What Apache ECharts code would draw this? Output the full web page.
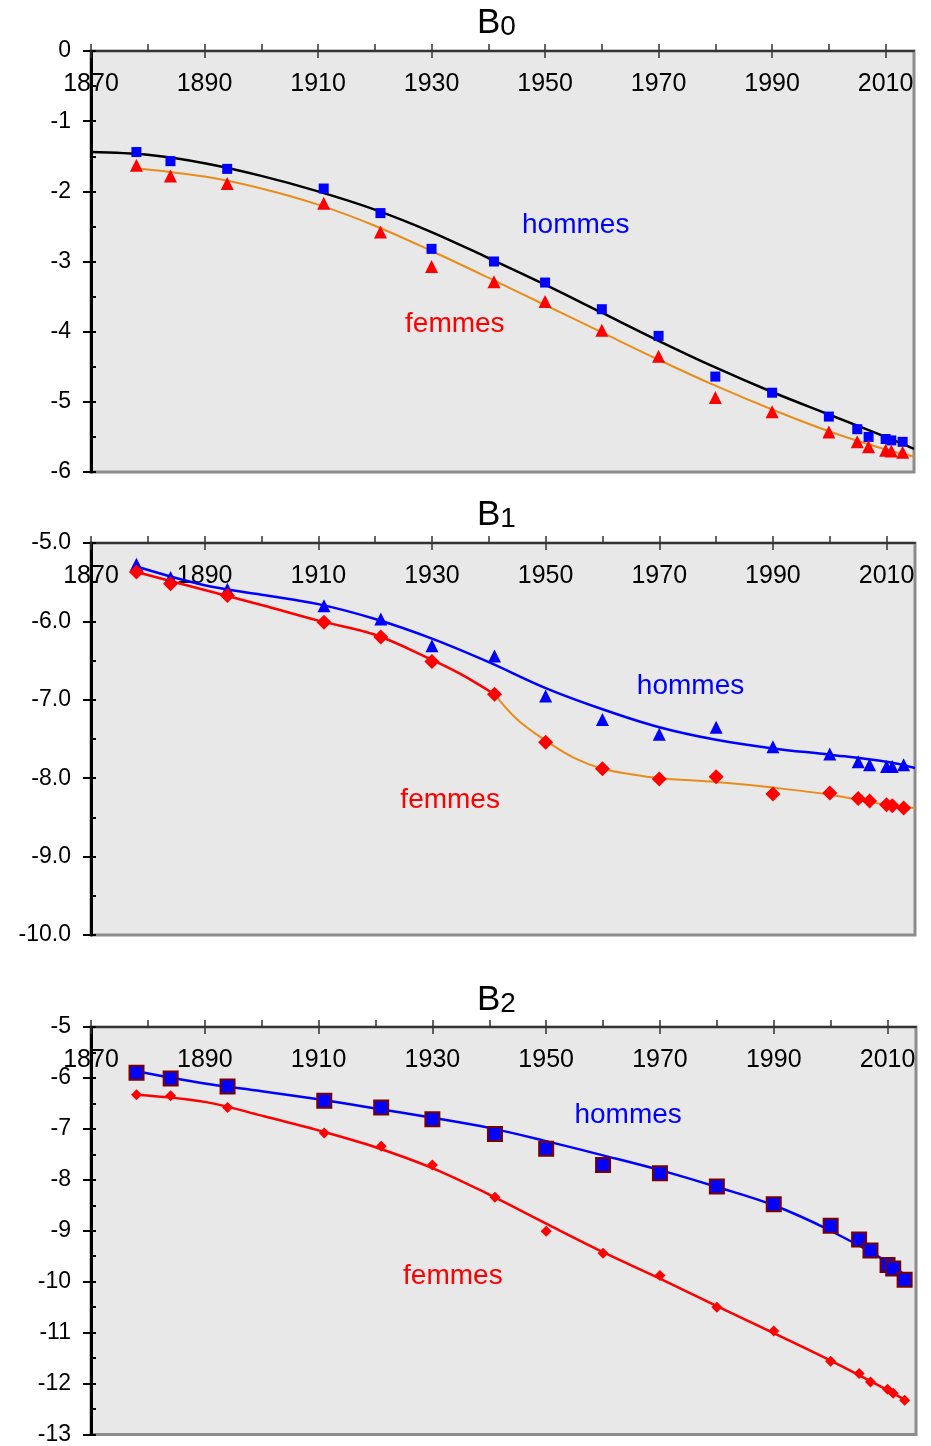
<!DOCTYPE html>
<html><head><meta charset="utf-8">
<script src="https://cdn.jsdelivr.net/npm/echarts@6/dist/echarts.min.js"></script>
<style>html,body{margin:0;padding:0;background:#fff}#c{width:931px;height:1446px}</style>
</head><body><div id="c"></div>
<script>
// ---------- DATA ----------
const years = [1878,1884,1894,1911,1921,1930,1941,1950,1960,1970,1980,1990,2000,2005,2007,2010,2011,2013];
const xTickLabels = [1870,1890,1910,1930,1950,1970,1990,2010];
const xTicksAll = [1870,1880,1890,1900,1910,1920,1930,1940,1950,1960,1970,1980,1990,2000,2010];

// B0
const b0Hommes = [-1.44,-1.57,-1.68,-1.96,-2.31,-2.82,-3.00,-3.30,-3.68,-4.06,-4.64,-4.87,-5.21,-5.39,-5.50,-5.53,-5.55,-5.57];
const b0Femmes = [-1.63,-1.78,-1.89,-2.17,-2.58,-3.07,-3.29,-3.57,-3.98,-4.35,-4.94,-5.14,-5.43,-5.57,-5.64,-5.69,-5.70,-5.72];
const b0FitHYears = [1870,1880,1890,1900,1910,1920,1930,1940,1950,1960,1970,1980,1990,2000,2010,2015];
const b0FitHommes = [-1.44,-1.48,-1.60,-1.78,-2.00,-2.26,-2.58,-2.95,-3.33,-3.73,-4.13,-4.51,-4.86,-5.18,-5.50,-5.67];
const b0FitFYears = [1878,1890,1900,1910,1920,1930,1940,1950,1960,1970,1980,1990,2000,2010,2015];
const b0FitFemmes = [-1.67,-1.79,-1.96,-2.19,-2.49,-2.85,-3.23,-3.62,-4.01,-4.40,-4.77,-5.11,-5.42,-5.68,-5.78];

// B1
const b1Hommes = [-5.27,-5.44,-5.59,-5.80,-5.97,-6.31,-6.44,-6.95,-7.25,-7.44,-7.35,-7.60,-7.69,-7.79,-7.83,-7.85,-7.85,-7.83];
const b1Femmes = [-5.37,-5.52,-5.67,-6.01,-6.20,-6.51,-6.93,-7.54,-7.88,-8.01,-7.98,-8.20,-8.19,-8.26,-8.29,-8.34,-8.35,-8.38];
const b1FitHYears = [1878,1890,1900,1910,1920,1930,1940,1950,1960,1970,1980,1990,2000,2010,2015];
const b1FitHommes = [-5.30,-5.54,-5.66,-5.78,-5.97,-6.22,-6.52,-6.85,-7.12,-7.35,-7.51,-7.62,-7.70,-7.79,-7.87];
const b1FitF1Years = [1878,1890,1900,1910,1920,1930,1935,1941];
const b1FitFemmes1 = [-5.37,-5.60,-5.79,-5.99,-6.17,-6.49,-6.67,-6.93];
const b1FitF2Years = [1941,1945,1950,1955,1960,1965,1970,1980,1990,2000,2010,2015];
const b1FitFemmes2 = [-6.93,-7.25,-7.52,-7.74,-7.88,-7.95,-8.00,-8.05,-8.12,-8.21,-8.34,-8.38];

// B2
const b2Hommes = [-5.90,-6.01,-6.17,-6.45,-6.58,-6.81,-7.10,-7.39,-7.71,-7.87,-8.13,-8.48,-8.90,-9.17,-9.39,-9.67,-9.74,-9.96];
const b2Femmes = [-6.33,-6.35,-6.58,-7.08,-7.34,-7.71,-8.34,-9.01,-9.44,-9.88,-10.50,-10.97,-11.56,-11.80,-11.97,-12.11,-12.19,-12.33];
const b2FitYears = [1878,1890,1900,1910,1920,1930,1940,1950,1960,1970,1980,1990,2000,2010,2013];
const b2FitHommes = [-5.87,-6.11,-6.26,-6.42,-6.60,-6.78,-6.98,-7.24,-7.52,-7.81,-8.14,-8.50,-9.00,-9.61,-9.87];
const b2FitFemmes = [-6.33,-6.47,-6.74,-7.03,-7.36,-7.77,-8.29,-8.86,-9.42,-9.94,-10.48,-11.01,-11.55,-12.13,-12.32];

const panelTitles = ['0','1','2'];
const yRanges = [[-6,0],[-10,-5],[-13,-5]];
const annotations = [
  {grid:0, x:1955.4, y:-2.48, text:'hommes', color:'#0000ff'},
  {grid:0, x:1934.1, y:-3.89, text:'femmes', color:'#ff0000'},
  {grid:1, x:1975.5, y:-6.83, text:'hommes', color:'#0000ff'},
  {grid:1, x:1933.2, y:-8.28, text:'femmes', color:'#ff0000'},
  {grid:2, x:1964.4, y:-6.74, text:'hommes', color:'#0000ff'},
  {grid:2, x:1933.6, y:-9.90, text:'femmes', color:'#ff0000'}
];

// ---------- BUILD ----------
const FONT = 'Liberation Sans, Arial, Helvetica, sans-serif';
const zip = (xs, ys) => xs.map((x, i) => [x, ys[i]]);
const BLUE = '#0000ff', RED = '#ff0000', ORANGE = '#e98c1a';

const grids = [
  {left:91, top:51, width:823, height:421},
  {left:91, top:543, width:824, height:392},
  {left:91, top:1027, width:825, height:413}
].map(g => Object.assign(g, {show:true, backgroundColor:'#e8e8e8', borderColor:'#8c8c8c', borderWidth:3, containLabel:false}));

const xAxes = [], yAxes = [];
for (let i = 0; i < 3; i++) {
  xAxes.push({
    gridIndex:i, type:'value', position:'top', min:1870, max:2015, interval:10,
    axisLine:{show:true, onZero:false, lineStyle:{color:'#333', width:2}},
    axisTick:{show:true, inside:false, length:7, customValues:xTicksAll, lineStyle:{color:'#333', width:1.5}},
    axisLabel:{inside:true, margin:21, fontSize:25, color:'#000', fontFamily:FONT,
      formatter:v => ((v - 1870) % 20 === 0 && v <= 2010) ? String(v) : ''},
    splitLine:{show:false}
  });
}
for (let i = 0; i < 3; i++) {
  xAxes.push({
    gridIndex:i, type:'value', position:'top', min:1870, max:2015, interval:10,
    axisLine:{show:false},
    axisTick:{show:true, inside:true, length:7, customValues:xTickLabels, lineStyle:{color:'#333', width:1.5}},
    axisLabel:{show:false}, splitLine:{show:false}
  });
}
for (let i = 0; i < 3; i++) {
  const [mn, mx] = yRanges[i];
  yAxes.push({
    gridIndex:i, type:'value', position:'left', min:mn, max:mx, interval:1,
    axisLine:{show:true, onZero:false, lineStyle:{color:'#000', width:3}},
    axisTick:{show:true, inside:false, length:8, lineStyle:{color:'#000', width:2}},
    axisLabel:{margin:20, fontSize:23, color:'#000', fontFamily:FONT,
      formatter: v => i === 1 ? v.toFixed(1) : String(v)},
    splitLine:{show:false}
  });
}
for (let i = 0; i < 3; i++) {
  const [mn, mx] = yRanges[i];
  yAxes.push({
    gridIndex:i, type:'value', position:'left', min:mn, max:mx, interval:0.5,
    axisLine:{show:false},
    axisTick:{show:true, inside:true, length:5, lineStyle:{color:'#000', width:2}},
    axisLabel:{show:false}, splitLine:{show:false}
  });
}

function line(gi, data, color, width) {
  return {type:'line', xAxisIndex:gi, yAxisIndex:gi, data, smooth:0.35, showSymbol:false, symbol:'none',
    lineStyle:{color, width}, z:2, silent:true, animation:false};
}
function pts(gi, data, symbol, size, color, border) {
  return {type:'scatter', xAxisIndex:gi, yAxisIndex:gi, data, symbol, symbolSize:size,
    itemStyle: border ? {color, opacity:1, borderColor:border, borderWidth:2} : {color, opacity:1},
    z:3, silent:true, animation:false};
}

const series = [
  line(0, zip(b0FitHYears, b0FitHommes), '#000', 2.5),
  line(0, zip(b0FitFYears, b0FitFemmes), ORANGE, 2),
  pts(0, zip(years, b0Hommes), 'rect', 10, BLUE),
  pts(0, zip(years, b0Femmes), 'triangle', 13, RED),

  line(1, zip(b1FitHYears, b1FitHommes), BLUE, 2.5),
  line(1, zip(b1FitF1Years, b1FitFemmes1), RED, 2.5),
  line(1, zip(b1FitF2Years, b1FitFemmes2), ORANGE, 2),
  pts(1, zip(years, b1Hommes), 'triangle', 13, BLUE),
  pts(1, zip(years, b1Femmes), 'diamond', 15, RED),

  line(2, zip(b2FitYears, b2FitHommes), BLUE, 2.5),
  line(2, zip(b2FitYears, b2FitFemmes), RED, 2.5),
  pts(2, zip(years, b2Hommes), 'rect', 14, BLUE, '#7a0000'),
  pts(2, zip(years, b2Femmes), 'diamond', 11, RED)
];

const titleTops = [4, 496, 981];
const titles = panelTitles.map((s, i) => ({
  text:'{b|B}{s|' + s + '}', left:477, top:titleTops[i], padding:0,
  textStyle:{rich:{
    b:{fontSize:35, fontWeight:'normal', fontFamily:FONT, color:'#000', lineHeight:37, verticalAlign:'bottom'},
    s:{fontSize:28, fontWeight:'normal', fontFamily:FONT, color:'#000', lineHeight:37, verticalAlign:'bottom'}
  }}
}));

const chart = echarts.init(document.getElementById('c'), null, {renderer:'canvas'});
chart.setOption({
  animation:false, backgroundColor:'#fff',
  title:titles, grid:grids, xAxis:xAxes, yAxis:yAxes, series
});

const graphics = annotations.map(a => {
  const p = chart.convertToPixel({gridIndex:a.grid}, [a.x, a.y]);
  return {type:'text', x:p[0], y:p[1], z:10,
    style:{text:a.text, fill:a.color, font:'28px ' + FONT, textAlign:'center', textVerticalAlign:'middle'}};
});
chart.setOption({graphic:graphics});
</script></body></html>
